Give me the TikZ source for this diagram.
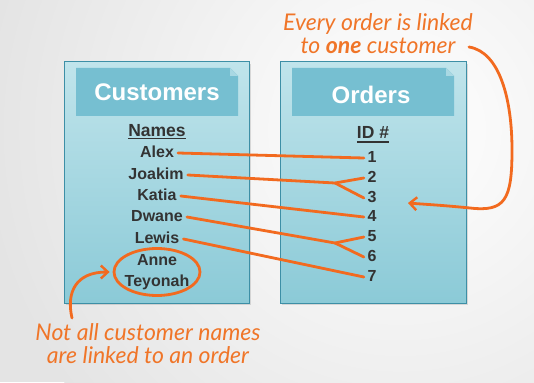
\documentclass[tikz,border=0pt]{standalone}
\usepackage{fontspec}
\setmainfont{Liberation Sans}
\newfontfamily\handfont{Lato}
\usetikzlibrary{shadows,arrows.meta,shapes.geometric}
\definecolor{bgray}{HTML}{E4E4E4}
\definecolor{boxtop}{HTML}{C0E4EB}
\definecolor{boxbot}{HTML}{8BCAD7}
\definecolor{boxline}{HTML}{3D8FA6}
\definecolor{headfill}{HTML}{76BFD1}
\definecolor{foldfill}{HTML}{A9D8E3}
\definecolor{ink}{HTML}{333333}
\definecolor{orng}{HTML}{F26A1F}
\definecolor{handorng}{HTML}{F07528}
\begin{document}
\begin{tikzpicture}[x=1pt,y=-1pt,
 tbl/.style={draw=boxline, line width=1pt, top color=boxtop, bottom color=boxbot,
   drop shadow={opacity=0.25,shadow xshift=2pt,shadow yshift=-2pt}},
 head/.style={fill=headfill},
 title/.style={font=\bfseries\fontsize{24}{24}\selectfont, text=white, inner sep=0pt},
 colhead/.style={font=\bfseries\fontsize{17.5}{18}\selectfont, text=ink, inner sep=0pt},
 item/.style={font=\bfseries\fontsize{16}{16}\selectfont, text=ink, inner ysep=0pt,
   inner xsep=4pt, text height=11pt, text depth=3pt},
 num/.style={item, inner xsep=3.5pt},
 link/.style={draw=orng, line width=2.8pt, line cap=round, line join=round},
 hand/.style={font=\handfont\itshape\fontsize{23}{23}\selectfont, text=handorng, align=center, inner sep=0pt},
 tip/.style={-{Straight Barb[length=7pt,width=13pt,line width=2.4pt]}},
]
\useasboundingbox (0,0) rectangle (534,382);
\begin{scope}
\clip (0,0) rectangle (534,382);
\fill[bgray] (0,0) rectangle (534,382);
\shade[inner color=white, outer color=bgray] (400,130) circle (420);
\end{scope}

% tables
\node[tbl, minimum width=185, minimum height=241, inner sep=0pt] (cbox) at (156.5,182.5) {};
\node[tbl, minimum width=186, minimum height=241, inner sep=0pt] (obox) at (373,182.5) {};

% headers with folded corner
\fill[headfill] (76,68) -- (230,68) -- (238,76) -- (238,116) -- (76,116) -- cycle;
\fill[foldfill] (230,68) -- (238,76) -- (230,76) -- cycle;
\fill[headfill] (292,68) -- (446,68) -- (454,76) -- (454,116) -- (292,116) -- cycle;
\fill[foldfill] (446,68) -- (454,76) -- (446,76) -- cycle;

\node[title] (ctitle) at (157,92) {Customers};
\node[title] (otitle) at (371,95) {Orders};

\node[colhead, anchor=base] (names) at (157,136) {Names};
\draw[ink, line width=1.2pt] ([yshift=-2.5pt]names.base west) -- ([yshift=-2.5pt]names.base east);
\node[colhead, anchor=base] (idh) at (373,139) {ID \#};
\draw[ink, line width=1.2pt] ([yshift=-3pt]idh.base west) -- ([yshift=-3pt]idh.base east);

% names
\node[item] (alex) at (157,153) {Alex};
\node[item] (joakim) at (156,175) {Joakim};
\node[item] (katia) at (157,196) {Katia};
\node[item] (dwane) at (157,217) {Dwane};
\node[item] (lewis) at (157,239) {Lewis};
\node[item] (anne) at (157,261) {Anne};
\node[item] (teyonah) at (157,282) {Teyonah};

% ids
\node[num] (n1) at (372,158) {1};
\node[num] (n2) at (372,178) {2};
\node[num] (n3) at (372,198) {3};
\node[num] (n4) at (372,217) {4};
\node[num] (n5) at (372,237) {5};
\node[num] (n6) at (372,257) {6};
\node[num] (n7) at (372,277) {7};

% links
\coordinate (j1) at (335,183);
\coordinate (j2) at (335,243);
\draw[link] (alex.east) -- (n1.west);
\draw[link] (joakim.east) -- (j1) -- (n2.west);
\draw[link] (j1) -- (n3.west);
\draw[link] (katia.east) -- (n4.west);
\draw[link] (dwane.east) -- (j2) -- (n5.west);
\draw[link] (j2) -- (n6.west);
\draw[link] (lewis.east) -- (n7.west);

% ring around unlinked names
\node[draw=orng, line width=2.8pt, ellipse, minimum width=86, minimum height=47, inner sep=0pt] (ring) at (157,272) {};

% notes
\node[hand] (note1) at (148,344) {Not all customer names\\are linked to an order};
\node[hand] (note2) at (378,34) {Every order is linked\\to {\bfseries one} customer};

\coordinate (s1) at (72,318);
\draw[link, tip] (s1) .. controls (66,292) and (76,272) .. ([xshift=-3pt]ring.west);

\coordinate (s2) at (469,47);
\coordinate (t2) at (408,203);
\draw[link, tip] (s2) .. controls (500,52) and (512,100) .. (512,150)
  .. controls (512,200) and (505,212) .. (470,208)
  .. controls (440,205) and (420,204) .. (t2);
\end{tikzpicture}
\end{document}
